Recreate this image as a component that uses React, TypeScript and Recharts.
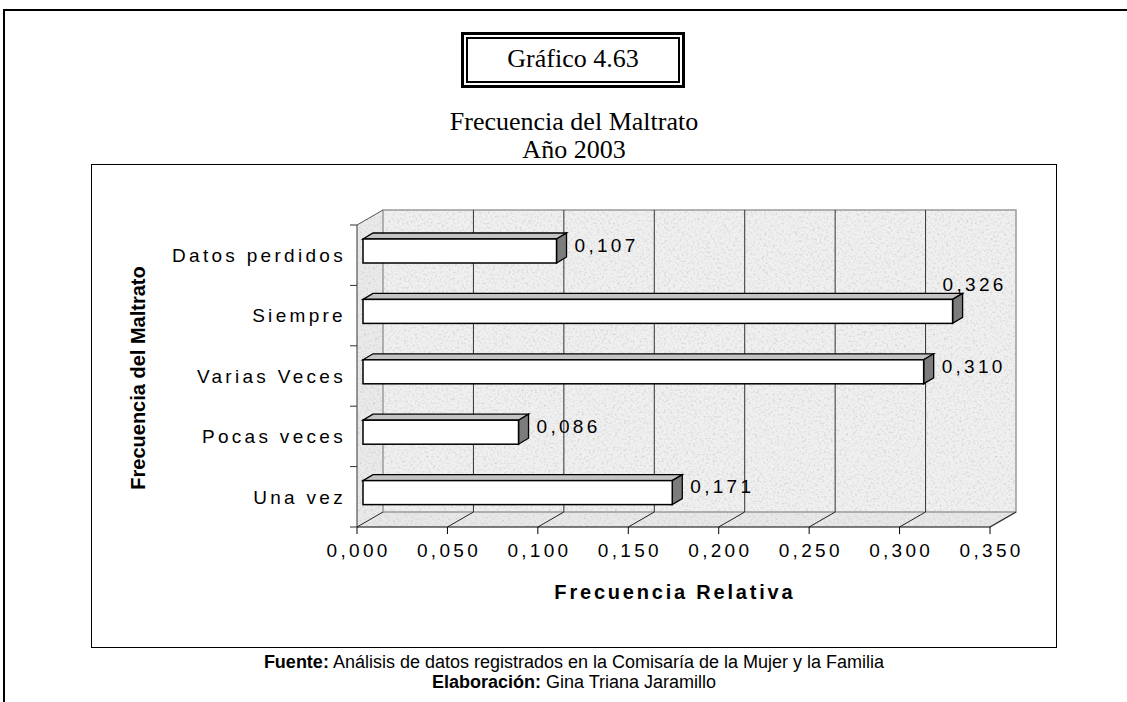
import { BarChart, Bar, XAxis, YAxis, CartesianGrid, LabelList } from 'recharts';

const categories = ['Datos perdidos', 'Siempre', 'Varias Veces', 'Pocas veces', 'Una vez'];
const relFreq = [0.107, 0.326, 0.31, 0.086, 0.171];
const xTicks = [0, 0.05, 0.1, 0.15, 0.2, 0.25, 0.3, 0.35];

const data = categories.map((name, i) => ({ name, value: relFreq[i] }));

const fmt = (v: number) => v.toFixed(3).replace('.', ',');

// chart geometry
const W = 966;
const H = 483;
const M = { top: 60, right: 67, bottom: 91, left: 30 };
const Y_W = 236;
const X_H = 30;
const plotL = M.left + Y_W;
const plotR = W - M.right;
const plotT = M.top;
const plotB = H - M.bottom - X_H;
// depth of the 3d walls and of the bars
const DX = 26;
const DY = 15;
const BDX = 10;
const BDY = 6;
const SHIFT_X = 6;
const SHIFT_Y = 4;

const ARIAL = 'Arial, "Liberation Sans", sans-serif';
const TIMES = '"Times New Roman", "Liberation Serif", serif';

const Walls = (p: any) => {
  if (p.index !== 0) return <g key={p.key} />;
  const l = p.x1 ?? plotL;
  const r = p.x2 ?? plotR;
  return (
    <g key={p.key}>
      <defs>
        <filter id="granite" x="0" y="0" width="100%" height="100%">
          <feTurbulence type="fractalNoise" baseFrequency="0.45" numOctaves="3" seed="7" result="n" />
          <feColorMatrix
            in="n"
            type="matrix"
            values="0 0 0 0 0.6  0 0 0 0 0.6  0 0 0 0 0.6  2.0 0 0 0 -0.95"
            result="g"
          />
          <feComposite in="g" in2="SourceGraphic" operator="in" result="c" />
          <feMerge>
            <feMergeNode in="SourceGraphic" />
            <feMergeNode in="c" />
          </feMerge>
        </filter>
      </defs>
      <rect x={l + DX} y={plotT - DY} width={r - l} height={plotB - plotT} fill="#f0f0f0" filter="url(#granite)" />
      <polygon
        points={`${l},${plotT} ${l + DX},${plotT - DY} ${l + DX},${plotB - DY} ${l},${plotB}`}
        fill="#eaeaea"
        filter="url(#granite)"
      />
      <polygon
        points={`${l},${plotB} ${r},${plotB} ${r + DX},${plotB - DY} ${l + DX},${plotB - DY}`}
        fill="#e8e8e8"
        filter="url(#granite)"
      />
      <rect x={l + DX} y={plotT - DY} width={r - l} height={plotB - plotT} fill="none" stroke="#9a9a9a" strokeWidth={1.5} />
      <line x1={l} y1={plotT} x2={l + DX} y2={plotT - DY} stroke="#555" />
      <line x1={r} y1={plotB} x2={r + DX} y2={plotB - DY} stroke="#9a9a9a" strokeWidth={1.5} />
    </g>
  );
};

const BackGridLine = (p: any) => {
  const x = p.x1;
  const inner = x > plotL + 1 && x < plotR - 1;
  return (
    <g key={p.key}>
      {inner && <line x1={x + DX} y1={plotT - DY} x2={x + DX} y2={plotB - DY} stroke="#333" strokeWidth={1} />}
      <line x1={x} y1={plotB} x2={x + DX} y2={plotB - DY} stroke="#222" strokeWidth={1} />
    </g>
  );
};

const XTick = (p: any) => (
  <g>
    <line x1={p.x} y1={plotB} x2={p.x} y2={plotB + 7} stroke="#000" />
    <text x={p.x + 1.6} y={plotB + 30} textAnchor="middle" fontFamily={ARIAL} fontSize={19} letterSpacing={3.3} fill="#000">
      {fmt(p.payload.value)}
    </text>
  </g>
);

const YTick = (p: any) => {
  const band = (plotB - plotT) / categories.length;
  const last = p.index === categories.length - 1;
  return (
    <g>
      <line x1={plotL - 7} y1={p.y - band / 2} x2={plotL} y2={p.y - band / 2} stroke="#333" />
      {last && <line x1={plotL - 7} y1={p.y + band / 2} x2={plotL} y2={p.y + band / 2} stroke="#333" />}
      <text x={plotL - 11} y={p.y} dy="0.36em" textAnchor="end" fontFamily={ARIAL} fontSize={19} letterSpacing={3.3} fill="#000">
        {p.payload.value}
      </text>
    </g>
  );
};

const Bar3D = (p: any) => {
  const x0 = p.x + SHIFT_X;
  const y0 = p.y - SHIFT_Y;
  const x1 = x0 + p.width;
  const y1 = y0 + p.height;
  return (
    <g>
      <polygon
        points={`${x0},${y0} ${x1},${y0} ${x1 + BDX},${y0 - BDY} ${x0 + BDX},${y0 - BDY}`}
        fill="#c4c4c4"
        stroke="#000"
        strokeWidth={1.3}
      />
      <polygon
        points={`${x1},${y0} ${x1 + BDX},${y0 - BDY} ${x1 + BDX},${y1 - BDY} ${x1},${y1}`}
        fill="#7c7c7c"
        stroke="#000"
        strokeWidth={1.3}
      />
      <rect x={x0} y={y0} width={p.width} height={p.height} fill="#fff" stroke="#000" strokeWidth={1.5} />
    </g>
  );
};

const ValueLabel = (p: any) => {
  const vb = p.viewBox ?? p;
  const x = (vb.x ?? p.x) + SHIFT_X;
  const y = (vb.y ?? p.y) - SHIFT_Y;
  const w = vb.width ?? p.width;
  const h = vb.height ?? p.height;
  const end = x + w;
  const labelW = 62;
  const overflow = end + 18 + labelW > plotR + DX;
  const tx = overflow ? end - 10 : end + 18;
  const ty = overflow ? y - 15 : y + h / 2 - 6;
  return (
    <text x={tx} y={ty} dy="0.36em" fontFamily={ARIAL} fontSize={19} letterSpacing={3.3} fill="#000">
      {fmt(Number(p.value))}
    </text>
  );
};

const YTitle = () => (
  <text
    transform={`translate(54, ${(plotT + plotB) / 2 + 2}) rotate(-90)`}
    textAnchor="middle"
    fontFamily={ARIAL}
    fontWeight="bold"
    fontSize={20}
    fill="#000"
  >
    Frecuencia del Maltrato
  </text>
);

const XTitle = () => (
  <text
    x={(plotL + plotR) / 2 + 1.4}
    y={plotB + 72}
    textAnchor="middle"
    fontFamily={ARIAL}
    fontWeight="bold"
    fontSize={20}
    letterSpacing={2.8}
    fill="#000"
  >
    Frecuencia Relativa
  </text>
);

export default function App() {
  return (
    <div style={{ position: 'absolute', left: 0, top: 0, width: 1127, height: 702, background: '#fff', overflow: 'hidden' }}>
      {/* page frame */}
      <div
        style={{
          position: 'absolute',
          left: 3,
          top: 9,
          width: 1130,
          height: 700,
          borderTop: '2px solid #000',
          borderLeft: '2px solid #000',
        }}
      />

      {/* "Gráfico" box */}
      <div
        style={{
          position: 'absolute',
          left: 461,
          top: 32,
          width: 224,
          height: 56,
          boxSizing: 'border-box',
          border: '3px solid #000',
          padding: 2,
        }}
      >
        <div
          style={{
            boxSizing: 'border-box',
            width: '100%',
            height: '100%',
            border: '2px solid #000',
            display: 'flex',
            alignItems: 'center',
            justifyContent: 'center',
            fontFamily: TIMES,
            fontSize: 26,
            paddingBottom: 3,
          }}
        >
          Gráfico 4.63
        </div>
      </div>

      <div
        style={{
          position: 'absolute',
          left: 91,
          top: 108,
          width: 966,
          textAlign: 'center',
          fontFamily: TIMES,
          fontSize: 26,
          lineHeight: '28px',
        }}
      >
        <div>Frecuencia del Maltrato</div>
        <div>Año 2003</div>
      </div>

      {/* chart box */}
      <div
        style={{
          position: 'absolute',
          left: 91,
          top: 164,
          width: W,
          height: H + 1,
          boxSizing: 'border-box',
          border: '1px solid #000',
        }}
      />
      <div style={{ position: 'absolute', left: 91, top: 165, width: W, height: H }}>
        <BarChart width={W} height={H} data={data} layout="vertical" margin={M}>
          <CartesianGrid horizontalPoints={[plotB]} horizontal={Walls} vertical={BackGridLine} />
          <XAxis
            type="number"
            domain={[0, 0.35]}
            ticks={xTicks}
            interval={0}
            height={X_H}
            axisLine={{ stroke: '#000' }}
            tickLine={false}
            tick={XTick}
            label={{ content: XTitle }}
          />
          <YAxis
            type="category"
            dataKey="name"
            width={Y_W}
            interval={0}
            axisLine={{ stroke: '#333' }}
            tickLine={false}
            tick={YTick}
            label={{ content: YTitle }}
          />
          <Bar dataKey="value" barSize={24} isAnimationActive={false} shape={Bar3D}>
            <LabelList dataKey="value" content={ValueLabel} />
          </Bar>
        </BarChart>
      </div>

      {/* source */}
      <div
        style={{
          position: 'absolute',
          left: 91,
          top: 652,
          width: 966,
          textAlign: 'center',
          fontFamily: ARIAL,
          fontSize: 18,
          lineHeight: '20px',
          color: '#000',
        }}
      >
        <div>
          <b>Fuente:</b> Análisis de datos registrados en la Comisaría de la Mujer y la Familia
        </div>
        <div>
          <b>Elaboración:</b> Gina Triana Jaramillo
        </div>
      </div>
    </div>
  );
}
